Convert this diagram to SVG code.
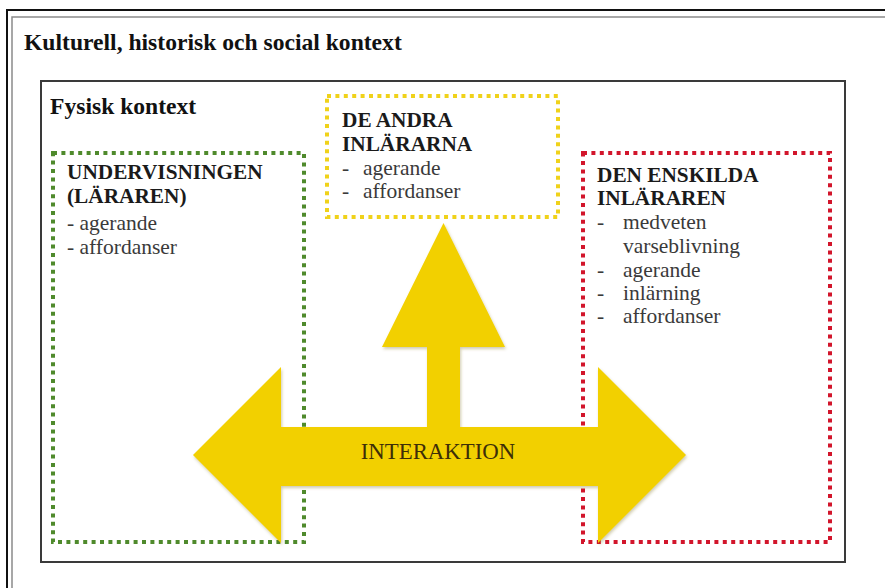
<svg xmlns="http://www.w3.org/2000/svg" width="885" height="588" viewBox="0 0 885 588">
  <defs>
    <style>
      .frame-outer { fill: none; stroke: #111; stroke-width: 2; }
      .frame-inner { fill: none; stroke: #8a8a8a; stroke-width: 1.5; }
      .ctx { fill: #fff; stroke: #3a3a3a; stroke-width: 2; }
      .dots { fill: none; stroke-width: 4; stroke-dasharray: 4 4.4; }
      .green { stroke: #4f8a2c; }
      .yellow { stroke: #f0d21a; }
      .red { stroke: #d2152b; }
      .title { font-family: "Liberation Serif", "Times New Roman", serif; font-weight: bold; font-size: 23.6px; fill: #111; }
      .head { font-family: "Liberation Serif", "Times New Roman", serif; font-weight: bold; font-size: 21.3px; fill: #1a1a1a; }
      .item { font-family: "Liberation Serif", "Times New Roman", serif; font-size: 21.5px; fill: #3a3a3a; }
      .arrow { fill: #f2d000; }
      .arrow-label { font-family: "Liberation Serif", "Times New Roman", serif; font-size: 22.8px; fill: #3d2e08; text-anchor: middle; }
    </style>
    <filter id="soft-shadow" x="-5%" y="-5%" width="110%" height="115%">
      <feDropShadow dx="1" dy="2" stdDeviation="1.5" flood-color="#7a6a20" flood-opacity="0.35"/>
    </filter>
  </defs>

  <rect width="885" height="588" fill="#fff"/>

  <!-- cultural / historical / social context (double frame running off the page) -->
  <g id="cultural-context">
    <rect class="frame-outer" x="7" y="10" width="900" height="600"/>
    <rect class="frame-inner" x="12" y="17" width="900" height="600"/>
    <text class="title" x="24" y="50">Kulturell, historisk och social kontext</text>
  </g>

  <!-- physical context -->
  <g id="physical-context">
    <rect class="ctx" x="41" y="81" width="804" height="481"/>
    <text class="title" x="50" y="114">Fysisk kontext</text>
  </g>

  <!-- teaching (the teacher) -->
  <g id="teaching">
    <rect class="dots green" x="53" y="153" width="251" height="389"/>
    <text class="head" x="67" y="179">UNDERVISNINGEN</text>
    <text class="head" x="67" y="203">(LÄRAREN)</text>
    <text class="item" x="67" y="230">- agerande</text>
    <text class="item" x="67" y="254">- affordanser</text>
  </g>

  <!-- the other learners -->
  <g id="other-learners">
    <rect class="dots yellow" x="327" y="96" width="231" height="121"/>
    <text class="head" x="342" y="127">DE ANDRA</text>
    <text class="head" x="342" y="151">INLÄRARNA</text>
    <text class="item" x="342" y="175">-</text>
    <text class="item" x="363" y="175">agerande</text>
    <text class="item" x="342" y="198">-</text>
    <text class="item" x="363" y="198">affordanser</text>
  </g>

  <!-- the individual learner -->
  <g id="individual-learner">
    <rect class="dots red" x="583" y="153" width="247" height="389"/>
    <text class="head" x="597" y="182">DEN ENSKILDA</text>
    <text class="head" x="597" y="205">INLÄRAREN</text>
    <text class="item" x="597" y="229">-</text>
    <text class="item" x="623" y="229">medveten</text>
    <text class="item" x="623" y="253">varseblivning</text>
    <text class="item" x="597" y="277">-</text>
    <text class="item" x="623" y="277">agerande</text>
    <text class="item" x="597" y="300">-</text>
    <text class="item" x="623" y="300">inlärning</text>
    <text class="item" x="597" y="323">-</text>
    <text class="item" x="623" y="323">affordanser</text>
  </g>

  <!-- interaction arrows -->
  <g id="connectors">
    <polygon class="arrow" filter="url(#soft-shadow)"
      points="193,455 281,367 281,427 427,427 427,347 382,347 443.5,223 505,347 460,347 460,427 598,427 598,367 686,455 598,543 598,486 281,486 281,543"/>
    <text class="arrow-label" x="438" y="459">INTERAKTION</text>
  </g>
</svg>
